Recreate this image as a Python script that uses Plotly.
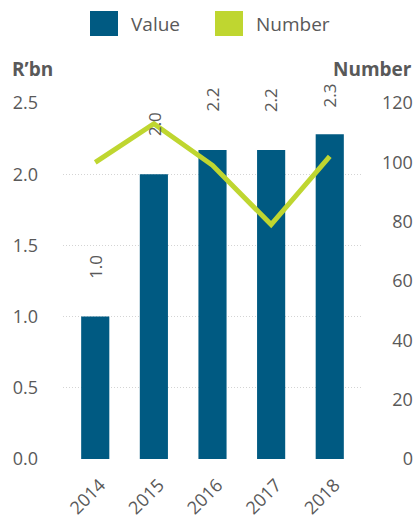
import plotly.graph_objects as go

years = ["2014", "2015", "2016", "2017", "2018"]
value_rbn = [1.0, 2.0, 2.17, 2.17, 2.28]
value_labels = ["1.0", "2.0", "2.2", "2.2", "2.3"]
number = [100, 113, 99, 79, 102]

left_ticks = [0, 0.5, 1.0, 1.5, 2.0, 2.5]
left_ticktext = ["0.0", "0.5", "1.0", "1.5", "2.0", "2.5"]
right_ticks = [0, 20, 40, 60, 80, 100, 120]

BAR = "#005a82"
LINE = "#bfd630"
GREY = "#595959"
FONT = "Open Sans"

W, H = 415, 519
x0, x1 = 63 / W, 362 / W
y0, y1 = 1 - 459 / H, 1 - 103 / H

fig = go.Figure()
fig.add_trace(go.Bar(x=years, y=value_rbn, name="Value", marker_color=BAR,
                     width=0.48, showlegend=False))
fig.add_trace(go.Scatter(x=years, y=number, name="Number", yaxis="y2",
                         mode="lines", line=dict(color=LINE, width=5),
                         showlegend=False))

# value labels above bars (x given as category index)
for i, (v, t) in enumerate(zip(value_rbn, value_labels)):
    fig.add_annotation(x=i, y=min(v, 2.2), xref="x", yref="y", text=t,
                       textangle=-90, showarrow=False, yshift=50,
                       xanchor="center", yanchor="middle",
                       font=dict(family=FONT, size=17, color=GREY))

fig.update_layout(
    template="none",
    width=W, height=H,
    margin=dict(l=0, r=0, t=0, b=0, autoexpand=False),
    paper_bgcolor="white", plot_bgcolor="white",
    font=dict(family=FONT, size=17, color=GREY),
    xaxis=dict(type="category", domain=[x0, x1], range=[-0.55, 4.55], tickangle=-45,
               showgrid=False, showline=False, zeroline=False, ticks="",
               automargin=False, ticklabelstandoff=11, ticklabelshift=5,
               tickfont=dict(size=18, color=GREY)),
    yaxis=dict(domain=[y0, y1], range=[0, 2.5], tickvals=left_ticks,
               ticktext=left_ticktext, showgrid=True, gridcolor="#d4d4d4",
               griddash="1px,2px", gridwidth=1, zeroline=False, showline=False,
               ticks="", automargin=False,
               ticklabelstandoff=24, tickfont=dict(size=18, color=GREY)),
    yaxis2=dict(overlaying="y", anchor="free", position=0.995, side="left",
                range=[0, 120], tickvals=right_ticks, showgrid=False,
                zeroline=False, showline=False, ticks="", automargin=False,
                tickfont=dict(size=18, color=GREY)),
)

# axis titles
fig.add_annotation(x=10 / W, y=1 - 69 / H, xref="paper", yref="paper",
                   text="<b>R’bn</b>", showarrow=False, xanchor="left",
                   yanchor="middle",
                   font=dict(family=FONT, size=19, color=GREY))
fig.add_annotation(x=414 / W, y=1 - 69 / H, xref="paper", yref="paper",
                   text="<b>Number</b>", showarrow=False, xanchor="right",
                   yanchor="middle",
                   font=dict(family=FONT, size=19, color=GREY))

# custom legend
legend_items = [("Value", BAR, 90), ("Number", LINE, 215)]
for label, col, lx in legend_items:
    fig.add_shape(type="rect", xref="paper", yref="paper",
                  x0=lx / W, x1=(lx + 28) / W, y0=1 - 36 / H, y1=1 - 11 / H,
                  fillcolor=col, line=dict(width=0))
    fig.add_annotation(x=(lx + 39) / W, y=1 - 24 / H, xref="paper", yref="paper",
                       text=label, showarrow=False, xanchor="left",
                       yanchor="middle",
                       font=dict(family=FONT, size=19, color=GREY))

fig.write_html("out.html", config={"displayModeBar": False},
               post_script="document.body.style.margin='0';"
                           "document.body.style.overflow='hidden';")
